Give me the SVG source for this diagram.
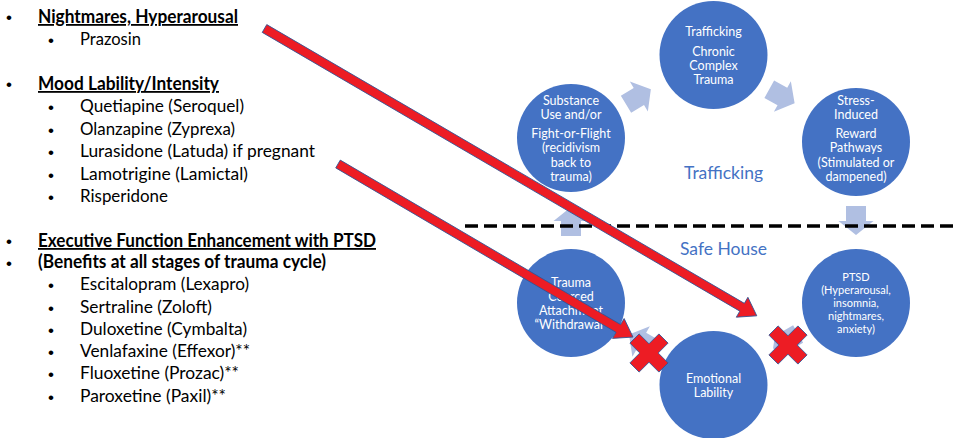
<svg xmlns="http://www.w3.org/2000/svg" width="959" height="438" viewBox="0 0 959 438">
<defs>
<style>
.li{font-family:Lato,"Liberation Sans",sans-serif;font-size:18px;fill:#000}
.hd{font-weight:bold}
.ul{text-decoration:underline}
.bu{font-family:"Liberation Sans",sans-serif;font-size:17px;fill:#000}
.circ{fill:#4472C4}
.ct{font-family:Lato,"Liberation Sans",sans-serif;font-size:12.5px;fill:#fff;text-anchor:middle}
.cs{font-size:11px}
.lab{font-family:Lato,"Liberation Sans",sans-serif;font-size:17.5px;fill:#4472C4;text-anchor:middle}
.sa{fill:#B0BFE2}
.red{fill:#ED1C24;stroke:#2F5597;stroke-width:0.8}
</style>
<polygon id="sarrow" points="-14,-10 1,-10 1,-17.5 15,0 1,17.5 1,10 -14,10"/>
<polygon id="xmark" points="-6.5,-20.5 6.5,-20.5 6.5,-6.5 20.5,-6.5 20.5,6.5 6.5,6.5 6.5,20.5 -6.5,20.5 -6.5,6.5 -20.5,6.5 -20.5,-6.5 -6.5,-6.5" transform="rotate(45)"/>
</defs>
<rect width="959" height="438" fill="#fff"/>

<g id="med-list">
<text class="bu" x="6" y="23">•</text>
<text class="li hd ul" x="38" y="23" textLength="200" lengthAdjust="spacingAndGlyphs">Nightmares, Hyperarousal</text>
<text class="bu" x="48" y="46">•</text>
<text class="li" x="80" y="45" textLength="61" lengthAdjust="spacingAndGlyphs">Prazosin</text>

<text class="bu" x="6" y="90">•</text>
<text class="li hd ul" x="38" y="90" textLength="181" lengthAdjust="spacingAndGlyphs">Mood Lability/Intensity</text>
<text class="bu" x="48" y="113">•</text>
<text class="li" x="80" y="112" textLength="164" lengthAdjust="spacingAndGlyphs">Quetiapine (Seroquel)</text>
<text class="bu" x="48" y="136">•</text>
<text class="li" x="80" y="135" textLength="155" lengthAdjust="spacingAndGlyphs">Olanzapine (Zyprexa)</text>
<text class="bu" x="48" y="158">•</text>
<text class="li" x="80" y="157" textLength="235" lengthAdjust="spacingAndGlyphs">Lurasidone (Latuda) if pregnant</text>
<text class="bu" x="48" y="181">•</text>
<text class="li" x="80" y="180" textLength="168" lengthAdjust="spacingAndGlyphs">Lamotrigine (Lamictal)</text>
<text class="bu" x="48" y="203">•</text>
<text class="li" x="80" y="202" textLength="88" lengthAdjust="spacingAndGlyphs">Risperidone</text>

<text class="bu" x="6" y="247">•</text>
<text class="li hd ul" x="38" y="247" textLength="338" lengthAdjust="spacingAndGlyphs">Executive Function Enhancement with PTSD</text>
<text class="bu" x="6" y="269">•</text>
<text class="li hd" x="38" y="268" textLength="288" lengthAdjust="spacingAndGlyphs">(Benefits at all stages of trauma cycle)</text>
<text class="bu" x="48" y="291">•</text>
<text class="li" x="80" y="290" textLength="169" lengthAdjust="spacingAndGlyphs">Escitalopram (Lexapro)</text>
<text class="bu" x="48" y="314">•</text>
<text class="li" x="80" y="313" textLength="132" lengthAdjust="spacingAndGlyphs">Sertraline (Zoloft)</text>
<text class="bu" x="48" y="336">•</text>
<text class="li" x="80" y="335" textLength="167" lengthAdjust="spacingAndGlyphs">Duloxetine (Cymbalta)</text>
<text class="bu" x="48" y="358">•</text>
<text class="li" x="80" y="357" textLength="170" lengthAdjust="spacingAndGlyphs">Venlafaxine (Effexor)**</text>
<text class="bu" x="48" y="380">•</text>
<text class="li" x="80" y="379" textLength="159" lengthAdjust="spacingAndGlyphs">Fluoxetine (Prozac)**</text>
<text class="bu" x="48" y="403">•</text>
<text class="li" x="80" y="402" textLength="146" lengthAdjust="spacingAndGlyphs">Paroxetine (Paxil)**</text>
</g>

<g id="node-trafficking">
<circle class="circ" cx="713.5" cy="55" r="54"/>
<text class="ct" x="713.5" y="36">Trafficking</text>
<text class="ct" x="713.5" y="56">Chronic</text>
<text class="ct" x="713.5" y="70">Complex</text>
<text class="ct" x="713.5" y="84">Trauma</text>
</g>
<g id="node-stress">
<circle class="circ" cx="856" cy="142" r="54"/>
<text class="ct" x="856" y="105">Stress-</text>
<text class="ct" x="856" y="119">Induced</text>
<text class="ct" x="856" y="138">Reward</text>
<text class="ct" x="856" y="152">Pathways</text>
<text class="ct" x="856" y="167">(Stimulated or</text>
<text class="ct" x="856" y="181">dampened)</text>
</g>
<g id="node-ptsd">
<circle class="circ" cx="856" cy="303" r="54"/>
<text class="ct cs" x="856" y="281">PTSD</text>
<text class="ct cs" x="856" y="294">(Hyperarousal,</text>
<text class="ct cs" x="856" y="307">insomnia,</text>
<text class="ct cs" x="856" y="320">nightmares,</text>
<text class="ct cs" x="856" y="333">anxiety)</text>
</g>
<g id="node-emotional">
<circle class="circ" cx="713.5" cy="385" r="54"/>
<text class="ct" x="713.5" y="383">Emotional</text>
<text class="ct" x="713.5" y="397">Lability</text>
</g>
<g id="node-trauma">
<circle class="circ" cx="571" cy="303" r="54"/>
<text class="ct" x="571" y="287">Trauma</text>
<text class="ct" x="571" y="301">Coerced</text>
<text class="ct" x="571" y="315">Attachment</text>
<text class="ct" x="571" y="329">“Withdrawal”</text>
</g>
<g id="node-substance">
<circle class="circ" cx="571" cy="138" r="54"/>
<text class="ct" x="571" y="105">Substance</text>
<text class="ct" x="571" y="119">Use and/or</text>
<text class="ct" x="571" y="138">Fight-or-Flight</text>
<text class="ct" x="571" y="152">(recidivism</text>
<text class="ct" x="571" y="167">back to</text>
<text class="ct" x="571" y="181">trauma)</text>
</g>

<g id="connectors">
<use href="#sarrow" class="sa" transform="translate(638,97) rotate(-31)"/>
<use href="#sarrow" class="sa" transform="translate(781.5,96) rotate(29)"/>
<use href="#sarrow" class="sa" transform="translate(856,220) rotate(90)"/>
<use href="#sarrow" class="sa" transform="translate(786,341) rotate(150)"/>
<use href="#sarrow" class="sa" transform="translate(642,342) rotate(210)"/>
<use href="#sarrow" class="sa" transform="translate(571,222) rotate(-90)"/>
</g>

<g id="zones">
<line x1="465" y1="226" x2="959" y2="226" stroke="#000" stroke-width="3.5" stroke-dasharray="13 6"/>
<text class="lab" x="723.5" y="179">Trafficking</text>
<text class="lab" x="723.5" y="255">Safe House</text>
</g>

<g id="annotations">
<polygon class="red" points="0,-4.5 553,-4.5 553,-11.5 570,0 553,11.5 553,4.5 0,4.5" transform="translate(264.5,28.5) rotate(30.27)"/>
<polygon class="red" points="0,-4.5 325,-4.5 325,-11.5 342,0 325,11.5 325,4.5 0,4.5" transform="translate(338,164) rotate(30.4)"/>
<use href="#xmark" class="red" transform="translate(649,353)"/>
<use href="#xmark" class="red" transform="translate(788,345)"/>
</g>
</svg>
